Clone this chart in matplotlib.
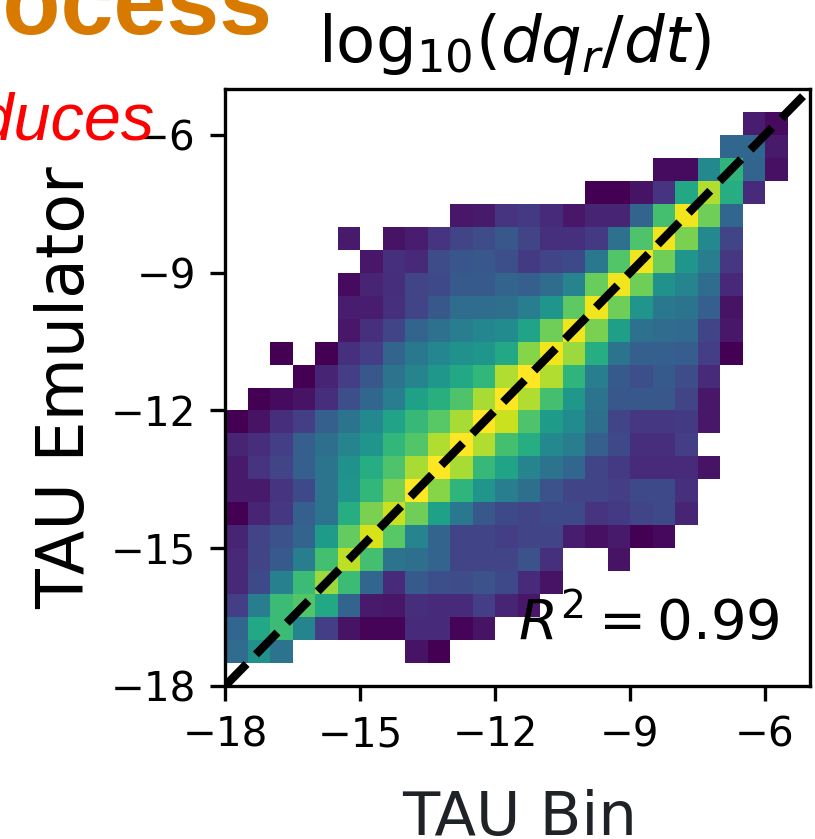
import matplotlib
matplotlib.use("Agg")
import matplotlib.pyplot as plt
import numpy as np

N = None

# Colour level of each bin (0-100 on viridis), bottom row first, left column first
row_00 = [N] * 25
row_01 = [35, 50, 38, N, N, N, N, N, 5, 0] + [N] * 15
row_02 = [33, 60, 68, 45, 18, 5, 1, 1, 12, 12, 1, 5] + [N] * 13
row_03 = [18, 42, 68, 73, 60, 32, 7, 6, 13, 12, 12, 18, 10, 6] + [N] * 11
row_04 = [11, 22, 43, 68, 85, 68, 33, 12, 28, 24, 23, 25, 22, 12, 5] + [N] * 10
row_05 = [11, 20, 28, 42, 70, 90, 70, 38, 36, 32, 20, 20, 20, 25, 14, N, N, 5] + [N] * 7
row_06 = [10, 20, 25, 32, 55, 76, 94, 74, 45, 32, 20, 20, 18, 20, 20, 8, 4, 7, 0, 2] + [N] * 5
row_07 = [0, 10, 16, 30, 38, 62, 80, 92, 78, 57, 40, 27, 22, 20, 22, 22, 15, 17, 20, 22, 10] + [N] * 4
row_08 = [7, 7, 15, 22, 38, 52, 66, 80, 100, 82, 65, 52, 42, 36, 25, 20, 20, 18, 22, 22, 14] + [N] * 4
row_09 = [7, 15, 20, 30, 38, 50, 62, 72, 87, 100, 87, 67, 58, 45, 38, 33, 20, 17, 12, 12, 12, 5] + [N] * 3
row_10 = [10, 13, 18, 30, 36, 45, 52, 66, 73, 88, 100, 88, 70, 62, 47, 42, 30, 22, 13, 13, 18] + [N] * 4
row_11 = [0, 5, 13, 18, 30, 38, 47, 58, 67, 74, 87, 100, 92, 72, 55, 48, 36, 20, 16, 16, 17, 6] + [N] * 3
row_12 = [N, 0, 3, 5, 13, 24, 33, 42, 57, 63, 72, 87, 100, 88, 70, 53, 38, 27, 27, 27, 20, 6] + [N] * 3
row_13 = [N, N, N, 0, 10, 18, 27, 38, 45, 53, 60, 66, 88, 100, 88, 65, 42, 28, 24, 28, 23, 12] + [N] * 3
row_14 = [N, N, 0, N, 0, 14, 18, 32, 40, 46, 50, 52, 60, 82, 98, 85, 62, 38, 30, 30, 29, 18, 0] + [N] * 2
row_15 = [N] * 5 + [6, 14, 20, 32, 37, 42, 46, 48, 58, 78, 98, 80, 56, 37, 35, 34, 20, 6] + [N] * 2
row_16 = [N] * 5 + [8, 8, 14, 20, 27, 35, 35, 36, 42, 52, 75, 98, 78, 52, 40, 38, 30, 5] + [N] * 2
row_17 = [N] * 5 + [3, 10, 13, 20, 22, 28, 28, 32, 30, 35, 45, 77, 98, 78, 50, 45, 35, 11] + [N] * 2
row_18 = [N] * 6 + [6, 14, 11, 23, 26, 27, 24, 17, 20, 22, 40, 73, 98, 78, 52, 42, 16] + [N] * 2
row_19 = [N] * 5 + [7, N, 5, 8, 15, 20, 23, 27, 20, 14, 14, 17, 37, 72, 98, 80, 47, 20] + [N] * 2
row_20 = [N] * 10 + [6, 7, 15, 17, 12, 6, 10, 10, 32, 70, 98, 78, 33] + [N] * 2
row_21 = [N] * 16 + [0, 0, 5, 15, 60, 88, 62, 12] + [N]
row_22 = [N] * 19 + [3, 3, 47, 65, 32, 4]
row_23 = [N] * 22 + [33, 33, 7]
row_24 = [N] * 23 + [8, 3]

tick_values = [-18, -15, -12, -9, -6]
r2_label = r"$R^2 = 0.99$"

W, H = 815, 839


def main() -> None:
    rows = [
        row_00, row_01, row_02, row_03, row_04, row_05, row_06, row_07, row_08,
        row_09, row_10, row_11, row_12, row_13, row_14, row_15, row_16, row_17,
        row_18, row_19, row_20, row_21, row_22, row_23, row_24,
    ]
    levels = np.array(rows, dtype=float)
    edges = np.arange(-18, -5.25, 0.5)

    fig = plt.figure(figsize=(W / 300, H / 300), dpi=300)
    ax = fig.add_axes([225 / W, 1 - 686 / H, 585 / W, 597 / H])
    ax.pcolormesh(edges, edges, np.ma.masked_invalid(levels), cmap="viridis", vmin=0, vmax=100)
    ax.plot([-18, -5], [-18, -5], "k--", lw=2)

    ax.set_xlim(-18, -5)
    ax.set_ylim(-18, -5)
    ax.set_xticks(tick_values)
    ax.set_yticks(tick_values)
    ax.tick_params(labelsize=9.7)

    ax.set_title(r"$\mathrm{log}_{10}(dq_r/dt)$", fontsize=15.4, pad=6.5, x=0.494)
    ax.set_xlabel("TAU Bin", fontsize=14.6, color="#1f2328")
    ax.set_ylabel("TAU Emulator", fontsize=15.6)
    ax.xaxis.set_label_coords(0.503, -0.173)
    ax.yaxis.set_label_coords(-0.217, 0.5)
    ax.text(518 / W, 1 - 639 / H, r2_label, fontsize=13.5, transform=fig.transFigure)

    # Neighbouring panel text that runs off the edge of the crop
    fig.text(273 / W, 1 - 34 / H, "Process", color="#d97a00", fontsize=22.8,
             fontweight="bold", family="Liberation Sans", ha="right")
    fig.text(155 / W, 1 - 140 / H, "reproduces", color="#ff0000", fontsize=16,
             style="italic", family="Liberation Sans", ha="right")

    fig.savefig("out.png", dpi=300)


if __name__ == "__main__":
    main()
